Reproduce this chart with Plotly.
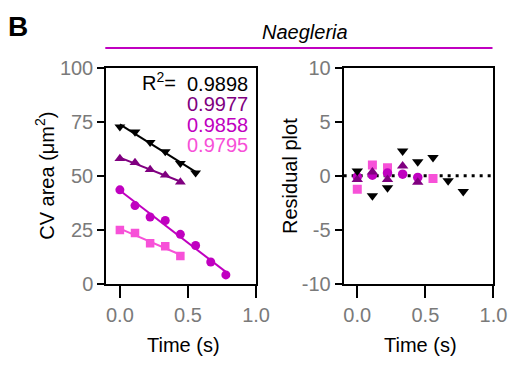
import numpy as np
import plotly.graph_objects as go

# ---------------- data ----------------
time_s = [0.0, 0.111, 0.222, 0.333, 0.444, 0.556, 0.667, 0.778]

black_area = [72.7, 70.3, 65.5, 61.2, 55.8, 51.4]
purple_area = [58.0, 56.1, 52.9, 50.3, 47.1]
magenta_area = [43.5, 36.2, 30.9, 29.3, 22.9, 17.7, 10.1, 4.1]
pink_area = [24.9, 23.5, 18.8, 17.4, 12.8]

r2_labels = ["0.9898", "0.9977", "0.9858", "0.9795"]

black_res_t = [0.0, 0.111, 0.222, 0.333, 0.444, 0.556, 0.667, 0.778]
black_res = [0.45, -1.85, -1.1, 2.3, 1.3, 1.7, -0.45, -1.45]
purple_res_t = [0.0, 0.111, 0.222, 0.333, 0.444]
purple_res = [-0.35, 0.35, -0.35, 0.9, -0.6]
magenta_res_t = [0.0, 0.111, 0.222, 0.333, 0.444]
magenta_res = [-0.1, 0.05, 0.25, 0.15, -0.15]
pink_res_t = [0.0, 0.111, 0.222, 0.556]
pink_res = [-1.25, 1.0, 0.75, -0.25]

x_ticks = [0.0, 0.5, 1.0]
x_ticklabels = ["0.0", "0.5", "1.0"]
y1_ticks = [0, 25, 50, 75, 100]
y2_ticks = [-10, -5, 0, 5, 10]
y2_ticklabels = ["-10", "-5", "0", "5", "10"]

# ---------------- style ----------------
# The page body has the browser's default 8px margin, so the figure is made
# 8px smaller each way and all positions are given in window pixels.
OFF = 8
W, H = 525 - OFF, 368 - OFF
BLACK = "#000000"
PURPLE = "#800080"
MAGENTA = "#c000c0"
PINK = "#f751d8"
GREY = "#7a7a7a"
FONT = "Liberation Sans, Arial, sans-serif"

def px(x):
    return (x - OFF) / W

def py(y):
    return 1 - (y - OFF) / H

fig = go.Figure()

series = [
    (pink_area, PINK, "square", 8.5, pink_res_t, pink_res),
    (magenta_area, MAGENTA, "circle", 9, magenta_res_t, magenta_res),
    (purple_area, PURPLE, "triangle-up", 9.5, purple_res_t, purple_res),
    (black_area, BLACK, "triangle-down", 9.5, black_res_t, black_res),
]

# dotted zero line in the residual plot
fig.add_trace(go.Scatter(x=[-0.1, 1.0], y=[0, 0], mode="lines",
                         line=dict(color=BLACK, width=3, dash="3px,5px"),
                         xaxis="x2", yaxis="y2", showlegend=False, hoverinfo="skip"))

for vals, col, sym, sz, rt, rv in series:
    t = np.array(time_s[:len(vals)])
    v = np.array(vals)
    slope, icpt = np.polyfit(t, v, 1)
    fit_x = [t[0], t[-1]]
    fig.add_trace(go.Scatter(x=fit_x, y=[icpt + slope * fit_x[0], icpt + slope * fit_x[1]],
                             mode="lines", line=dict(color=col, width=2),
                             xaxis="x", yaxis="y", showlegend=False, hoverinfo="skip"))
    fig.add_trace(go.Scatter(x=t, y=v, mode="markers",
                             marker=dict(color=col, symbol=sym, size=sz),
                             xaxis="x", yaxis="y", showlegend=False))

for vals, col, sym, sz, rt, rv in series:
    fig.add_trace(go.Scatter(x=rt, y=rv, mode="markers",
                             marker=dict(color=col, symbol=sym, size=sz + 0.5),
                             xaxis="x2", yaxis="y2", showlegend=False))

axis_common = dict(showline=True, linewidth=2, linecolor=BLACK, mirror=True,
                   showgrid=False, zeroline=False, ticks="outside", tickwidth=2,
                   tickcolor=BLACK, tickfont=dict(size=20, color=GREY, family=FONT))

ydom = [py(290), py(60)]
fig.update_layout(
    width=W, height=H, autosize=False,
    margin=dict(l=0, r=0, t=0, b=0, pad=0),
    paper_bgcolor="white", plot_bgcolor="white",
    font=dict(family=FONT, color=BLACK, size=20),
    xaxis=dict(domain=[px(109), px(263)], range=[-0.1, 1.0], tickvals=x_ticks,
               ticktext=x_ticklabels, ticklen=12, anchor="y", **axis_common),
    yaxis=dict(domain=ydom, range=[0, 100], tickvals=y1_ticks, ticklen=7,
               anchor="x", **axis_common),
    xaxis2=dict(domain=[px(353), px(507)], range=[-0.1, 1.0], tickvals=x_ticks,
                ticktext=x_ticklabels, ticklen=12, anchor="y2", **axis_common),
    yaxis2=dict(domain=ydom, range=[-10, 10], tickvals=y2_ticks,
                ticktext=y2_ticklabels, ticklen=7, anchor="x2", **axis_common),
)

ann = []
def text(x, y, s, size=20, color=BLACK, xanchor="center", angle=0, **kw):
    ann.append(dict(x=px(x), y=py(y), xref="paper", yref="paper", text=s,
                    showarrow=False, xanchor=xanchor, yanchor="middle",
                    textangle=angle, font=dict(size=size, color=color, family=FONT), **kw))

text(18, 16, "<b>B</b>", size=28)
text(313, 22, "<i>Naegleria</i>", size=20)
text(46, 175, "CV area (μm<sup>2</sup>)", angle=-90)
text(298, 175, "Residual plot", angle=-90)
text(188, 355, "Time (s)")
text(432, 355, "Time (s)")

r2_cols = [BLACK, PURPLE, MAGENTA, PINK]
r2_y = [77, 99, 121, 142]
text(183, 75, "R<sup>2</sup>=", xanchor="right")
for lab, col, yy in zip(r2_labels, r2_cols, r2_y):
    text(257, yy, lab, color=col, xanchor="right")

fig.update_layout(annotations=ann)
fig.add_shape(type="line", xref="paper", yref="paper",
              x0=px(108), x1=px(506), y0=py(39), y1=py(39),
              line=dict(color=MAGENTA, width=2))

fig.write_html("out.html", config={"displayModeBar": False})
